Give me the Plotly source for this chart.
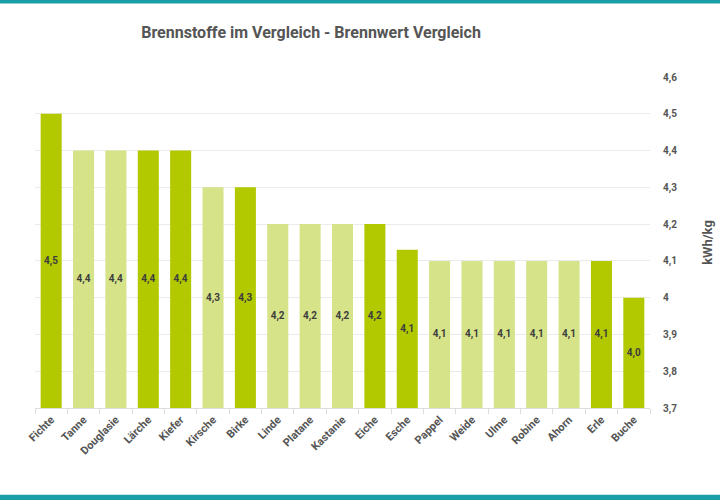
import plotly.graph_objects as go

# data
holzarten = ['Fichte', 'Tanne', 'Douglasie', 'Lärche', 'Kiefer', 'Kirsche', 'Birke', 'Linde',
             'Platane', 'Kastanie', 'Eiche', 'Esche', 'Pappel', 'Weide', 'Ulme', 'Robine',
             'Ahorn', 'Erle', 'Buche']
brennwert = [4.5, 4.4, 4.4, 4.4, 4.4, 4.3, 4.3, 4.2, 4.2, 4.2, 4.2, 4.13, 4.1, 4.1, 4.1, 4.1,
             4.1, 4.1, 4.0]
hervorgehoben = [True, False, False, True, True, False, True, False, False, False, True, True,
                 False, False, False, False, False, True, True]
y_min, y_max = 3.7, 4.6
y_ticks = [3.7, 3.8, 3.9, 4.0, 4.1, 4.2, 4.3, 4.4, 4.5, 4.6]

# colours
colors = {'dark': '#b2c900', 'light': '#d6e388', 'text': '#555555', 'label': '#3d3d3d',
          'grid': '#ebebeb', 'teal': '#1a9fa8'}
font_family = 'Roboto, Liberation Sans, sans-serif'

bar_colors = [colors['dark'] if h else colors['light'] for h in hervorgehoben]

# bars start at the axis minimum so the value labels sit in the middle of the visible part
fig = go.Figure()

fig.add_bar(
    x=holzarten,
    y=[v - y_min for v in brennwert],
    base=y_min,
    customdata=brennwert,
    marker=dict(color=bar_colors, line=dict(width=0)),
    texttemplate='<b>%{customdata:.1f}</b>',
    textposition='inside',
    insidetextanchor='middle',
    textangle=0,
    textfont=dict(size=10, color=colors['label'], family=font_family),
    hovertemplate='%{x}: %{customdata}<extra></extra>',
)

fig.update_layout(
    width=720,
    height=500,
    separators=',.',
    plot_bgcolor='white',
    paper_bgcolor='white',
    margin=dict(l=35, r=70, t=77, b=92, autoexpand=False),
    bargap=0.35,
    showlegend=False,
    font=dict(family=font_family, color=colors['text']),
    title=dict(
        text='<b>Brennstoffe im Vergleich - Brennwert Vergleich</b>',
        x=0.432, xanchor='center', y=0.936, yanchor='middle',
        font=dict(size=16, color=colors['text'], family=font_family),
    ),
)

fig.update_yaxes(
    side='right',
    range=[y_min, y_max],
    tickvals=y_ticks,
    automargin=False,
    showgrid=True,
    gridcolor=colors['grid'],
    gridwidth=1,
    zeroline=False,
    showline=False,
    ticks='',
    ticklabelstandoff=12,
    tickfont=dict(size=10, color=colors['text'], family=font_family, weight='bold'),
    title=dict(text='<b>kWh/kg</b>', standoff=26,
               font=dict(size=13, color=colors['text'], family=font_family)),
)

fig.update_xaxes(
    tickangle=-45,
    automargin=False,
    showline=True,
    linecolor='#dddddd',
    ticks='outside',
    tickcolor='#dddddd',
    ticklen=5,
    tickson='boundaries',
    tickfont=dict(size=11, color=colors['text'], family=font_family, weight='bold'),
)

# teal frame lines at top and bottom of the image
fig.add_shape(type='rect', xref='paper', yref='paper', x0=-0.06, x1=1.12, y0=1.222, y1=1.24,
              line=dict(width=0), fillcolor=colors['teal'], layer='above')
fig.add_shape(type='rect', xref='paper', yref='paper', x0=-0.06, x1=1.12, y0=-0.262, y1=-0.285,
              line=dict(width=0), fillcolor=colors['teal'], layer='above')

# drop the default page margin so the figure sits at the window's top-left corner
fig.write_html('out.html', config={'displayModeBar': False},
               post_script="document.body.style.margin = '0px';")
